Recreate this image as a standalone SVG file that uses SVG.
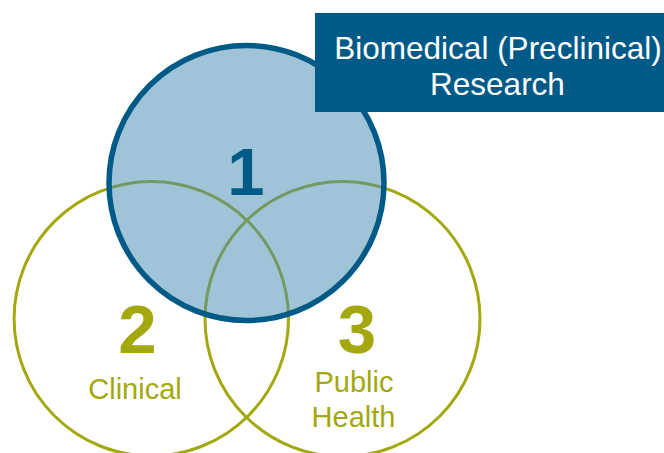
<svg xmlns="http://www.w3.org/2000/svg" width="664" height="453" viewBox="0 0 664 453">
  <style>
    .olive { fill: none; stroke: #a3a80f; stroke-width: 3; }
    .num { font-family: "Liberation Sans", Arial, sans-serif; font-weight: bold; text-anchor: middle; }
    .lbl { font-family: "Liberation Sans", Arial, sans-serif; text-anchor: middle; fill: #a3a80f; font-size: 29px; }
    .box { font-family: "Liberation Sans", Arial, sans-serif; text-anchor: middle; fill: #ffffff; font-size: 31.5px; }
  </style>
  <rect width="664" height="453" fill="#ffffff"/>
  <g id="circle-clinical">
    <circle class="olive" cx="151.3" cy="318.7" r="137.2"/>
  </g>
  <g id="circle-public-health">
    <circle class="olive" cx="342.5" cy="319" r="137.5"/>
  </g>
  <g id="circle-biomedical">
    <circle cx="246.5" cy="183" r="137.5" fill="#3f89b1" fill-opacity="0.5" stroke="#005a87" stroke-width="5.5"/>
    <text class="num" x="246" y="195" font-size="67" fill="#005a87">1</text>
  </g>
  <g id="label-clinical">
    <text class="num" x="137.5" y="352.5" font-size="69" fill="#a3a80f">2</text>
    <text class="lbl" x="135" y="399">Clinical</text>
  </g>
  <g id="label-public-health">
    <text class="num" x="357" y="352.5" font-size="69" fill="#a3a80f">3</text>
    <text class="lbl" x="354" y="391.5">Public</text>
    <text class="lbl" x="353.5" y="426.5">Health</text>
  </g>
  <g id="title-box">
    <rect x="315" y="13" width="349" height="99" fill="#005a87"/>
    <text class="box" x="498" y="59">Biomedical (Preclinical)</text>
    <text class="box" x="497.5" y="95">Research</text>
  </g>
  <g id="connectors"/>
</svg>
